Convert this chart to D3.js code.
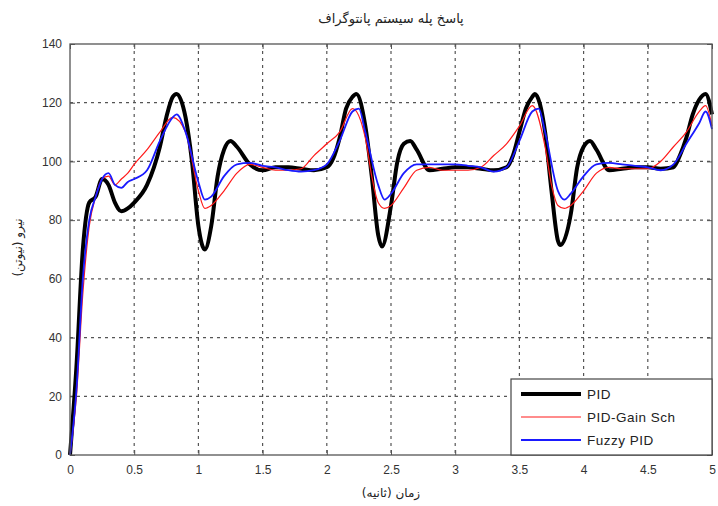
<!DOCTYPE html>
<html>
<head>
<meta charset="utf-8">
<script src="https://cdn.jsdelivr.net/npm/d3@7"></script>
<style>
  body { margin: 0; background: #fff; }
  svg { font-family: "Liberation Sans", Arial, sans-serif; }
  .tick text { fill: #333; font-size: 12px; }
</style>
</head>
<body>
<svg id="chart" width="718" height="506"></svg>
<script>
const margin = { top: 44, right: 6, bottom: 51, left: 70 };

const titleText = "پاسخ پله سیستم پانتوگراف";
const xLabelText = "زمان (ثانیه)";
const yLabelText = "نیرو (نیوتن)";

const xTicks = [0, 0.5, 1, 1.5, 2, 2.5, 3, 3.5, 4, 4.5, 5];
const yTicks = [0, 20, 40, 60, 80, 100, 120, 140];

// [time, force]
const pid = [
  [0, 0], [0.05, 30], [0.1, 70], [0.15, 86], [0.2, 88], [0.25, 94], [0.3, 92],
  [0.35, 86], [0.4, 83], [0.45, 84], [0.5, 86], [0.6, 92], [0.7, 105],
  [0.75, 115], [0.8, 122], [0.83, 123], [0.9, 115], [0.95, 100], [1.0, 78],
  [1.05, 70], [1.1, 78], [1.15, 95], [1.2, 104], [1.25, 107], [1.3, 105],
  [1.4, 99], [1.5, 97], [1.6, 98], [1.7, 98], [1.8, 97.5], [1.9, 97],
  [2.0, 98], [2.05, 101], [2.1, 108], [2.15, 118], [2.2, 122], [2.23, 123],
  [2.3, 112], [2.35, 95], [2.4, 75], [2.43, 71], [2.5, 85], [2.55, 100],
  [2.6, 106], [2.65, 107], [2.7, 104], [2.8, 97], [2.9, 97.5], [3.0, 98],
  [3.1, 98], [3.2, 97.5], [3.3, 97], [3.4, 98], [3.45, 102], [3.5, 110],
  [3.55, 118], [3.6, 122], [3.62, 123], [3.7, 110], [3.75, 90], [3.8, 73],
  [3.82, 71.5], [3.9, 82], [3.95, 98], [4.0, 105], [4.05, 107], [4.1, 104],
  [4.2, 97], [4.3, 97.5], [4.4, 98], [4.5, 98], [4.6, 97.5], [4.7, 98],
  [4.75, 102], [4.8, 108], [4.85, 116], [4.9, 121], [4.95, 123], [5.0, 116]
];

const pidGainSch = [
  [0, 0], [0.05, 20], [0.1, 55], [0.15, 78], [0.2, 88], [0.25, 94], [0.3, 95],
  [0.35, 92], [0.4, 94], [0.45, 96], [0.5, 99], [0.6, 104], [0.7, 110],
  [0.8, 115], [0.9, 110], [1.0, 90], [1.05, 84], [1.1, 85], [1.2, 90],
  [1.3, 96], [1.4, 99], [1.5, 98], [1.6, 97], [1.7, 97], [1.8, 97.5],
  [1.9, 102], [2.0, 106], [2.1, 110], [2.2, 118], [2.3, 108], [2.35, 95],
  [2.4, 86], [2.45, 84], [2.5, 85], [2.6, 91], [2.7, 97], [2.8, 98],
  [2.9, 97], [3.0, 97], [3.1, 97], [3.2, 98], [3.3, 102], [3.4, 106],
  [3.5, 112], [3.6, 119], [3.7, 105], [3.75, 92], [3.8, 85], [3.85, 84],
  [3.9, 85], [4.0, 90], [4.1, 96], [4.2, 98], [4.3, 97.5], [4.4, 97.5],
  [4.5, 97.5], [4.6, 100], [4.7, 105], [4.8, 110], [4.9, 117], [4.95, 119],
  [5.0, 112]
];

const fuzzyPid = [
  [0, 0], [0.05, 22], [0.1, 60], [0.15, 80], [0.2, 88], [0.25, 94], [0.3, 96],
  [0.35, 92], [0.4, 91], [0.45, 93], [0.5, 94], [0.6, 97], [0.7, 107],
  [0.8, 115], [0.83, 116], [0.9, 110], [1.0, 93], [1.05, 87], [1.1, 88],
  [1.2, 95], [1.3, 99], [1.4, 99.5], [1.5, 98.5], [1.6, 98], [1.7, 97],
  [1.8, 96.5], [1.9, 97], [2.0, 99], [2.1, 107], [2.2, 117], [2.25, 118],
  [2.3, 110], [2.4, 92], [2.45, 87], [2.5, 89], [2.6, 96], [2.7, 99],
  [2.8, 99], [2.9, 99], [3.0, 99], [3.1, 98.5], [3.2, 98], [3.3, 96.5],
  [3.4, 98], [3.5, 107], [3.6, 117], [3.65, 118], [3.7, 110], [3.8, 90],
  [3.85, 87], [3.9, 89], [4.0, 95], [4.1, 99], [4.2, 99.5], [4.3, 99],
  [4.4, 98.5], [4.5, 98], [4.6, 97], [4.7, 99], [4.8, 106], [4.9, 113],
  [4.95, 117], [5.0, 111]
];

const series = [
  { name: "PID", data: pid, color: "#000", width: 4 },
  { name: "PID-Gain Sch", data: pidGainSch, color: "#ff1a1a", width: 1.2 },
  { name: "Fuzzy PID", data: fuzzyPid, color: "#1a1aff", width: 1.8 }
];

const svg = d3.select("#chart");
const width = +svg.attr("width") - margin.left - margin.right;
const height = +svg.attr("height") - margin.top - margin.bottom;

const g = svg.append("g").attr("transform", `translate(${margin.left},${margin.top})`);

const x = d3.scaleLinear().domain([0, 5]).range([0, width]);
const y = d3.scaleLinear().domain([0, 140]).range([height, 0]);

// grid
g.append("g")
  .selectAll("line")
  .data(xTicks.slice(1, -1))
  .join("line")
  .attr("x1", (d) => x(d)).attr("x2", (d) => x(d))
  .attr("y1", 0).attr("y2", height)
  .attr("stroke", "#555").attr("stroke-width", 1.2)
  .attr("stroke-dasharray", "3,4");

g.append("g")
  .selectAll("line")
  .data(yTicks.slice(1, -1))
  .join("line")
  .attr("y1", (d) => y(d)).attr("y2", (d) => y(d))
  .attr("x1", 0).attr("x2", width)
  .attr("stroke", "#555").attr("stroke-width", 1.2)
  .attr("stroke-dasharray", "3,4");

// axes, ticks inward
const xAxis = g.append("g")
  .attr("transform", `translate(0,${height})`)
  .call(d3.axisBottom(x).tickValues(xTicks).tickSize(-5).tickPadding(10).tickFormat(d3.format("")));
const yAxis = g.append("g")
  .call(d3.axisLeft(y).tickValues(yTicks).tickSize(-5).tickPadding(8));
[xAxis, yAxis].forEach((a) => {
  a.select(".domain").remove();
  a.selectAll(".tick line").attr("stroke", "#555");
});

// top/right ticks
g.append("g")
  .call(d3.axisTop(x).tickValues(xTicks).tickSize(-5).tickFormat(""))
  .call((a) => a.select(".domain").remove())
  .selectAll(".tick line").attr("stroke", "#555");
g.append("g")
  .attr("transform", `translate(${width},0)`)
  .call(d3.axisRight(y).tickValues(yTicks).tickSize(-5).tickFormat(""))
  .call((a) => a.select(".domain").remove())
  .selectAll(".tick line").attr("stroke", "#555");

// lines
const line = d3.line()
  .x((d) => x(d[0]))
  .y((d) => y(d[1]))
  .curve(d3.curveMonotoneX);

svg.append("clipPath").attr("id", "plot-clip")
  .append("rect").attr("x", -2).attr("y", -2).attr("width", width + 4).attr("height", height + 4);

g.append("g")
  .attr("clip-path", "url(#plot-clip)")
  .selectAll("path")
  .data(series)
  .join("path")
  .attr("fill", "none")
  .attr("stroke", (d) => d.color)
  .attr("stroke-width", (d) => d.width)
  .attr("stroke-linejoin", "round")
  .attr("d", (d) => line(d.data));

// box
g.append("rect")
  .attr("width", width).attr("height", height)
  .attr("fill", "none").attr("stroke", "#555").attr("stroke-width", 1.3);

// legend
const legendW = 201, legendH = 76;
const legend = g.append("g")
  .attr("transform", `translate(${width - legendW},${height - legendH})`);
legend.append("rect")
  .attr("width", legendW).attr("height", legendH)
  .attr("fill", "#fff").attr("stroke", "#444").attr("stroke-width", 1.2);
const item = legend.selectAll(".item")
  .data(series)
  .join("g")
  .attr("class", "item")
  .attr("transform", (d, i) => `translate(0,${15 + i * 23})`);
item.append("line")
  .attr("x1", 10).attr("x2", 70)
  .attr("stroke", (d) => d.color)
  .attr("stroke-width", (d) => d.width);
item.append("text")
  .attr("x", 76).attr("dy", "0.35em")
  .attr("font-size", 13.5).attr("fill", "#222")
  .attr("letter-spacing", "0.5px")
  .text((d) => d.name);

// labels
svg.append("text")
  .attr("x", margin.left + width / 2).attr("y", 23)
  .attr("text-anchor", "middle").attr("font-size", 13).attr("fill", "#222")
  .attr("font-family", "'DejaVu Sans', sans-serif")
  .text(titleText);

svg.append("text")
  .attr("x", margin.left + width / 2).attr("y", 497)
  .attr("text-anchor", "middle").attr("font-size", 12).attr("fill", "#222")
  .attr("font-family", "'DejaVu Sans', sans-serif")
  .text(xLabelText);

svg.append("text")
  .attr("transform", `translate(22,${margin.top + height / 2 - 2}) rotate(-90)`)
  .attr("text-anchor", "middle").attr("font-size", 12).attr("fill", "#222")
  .attr("font-family", "'DejaVu Sans', sans-serif")
  .text(yLabelText);
</script>
</body>
</html>
